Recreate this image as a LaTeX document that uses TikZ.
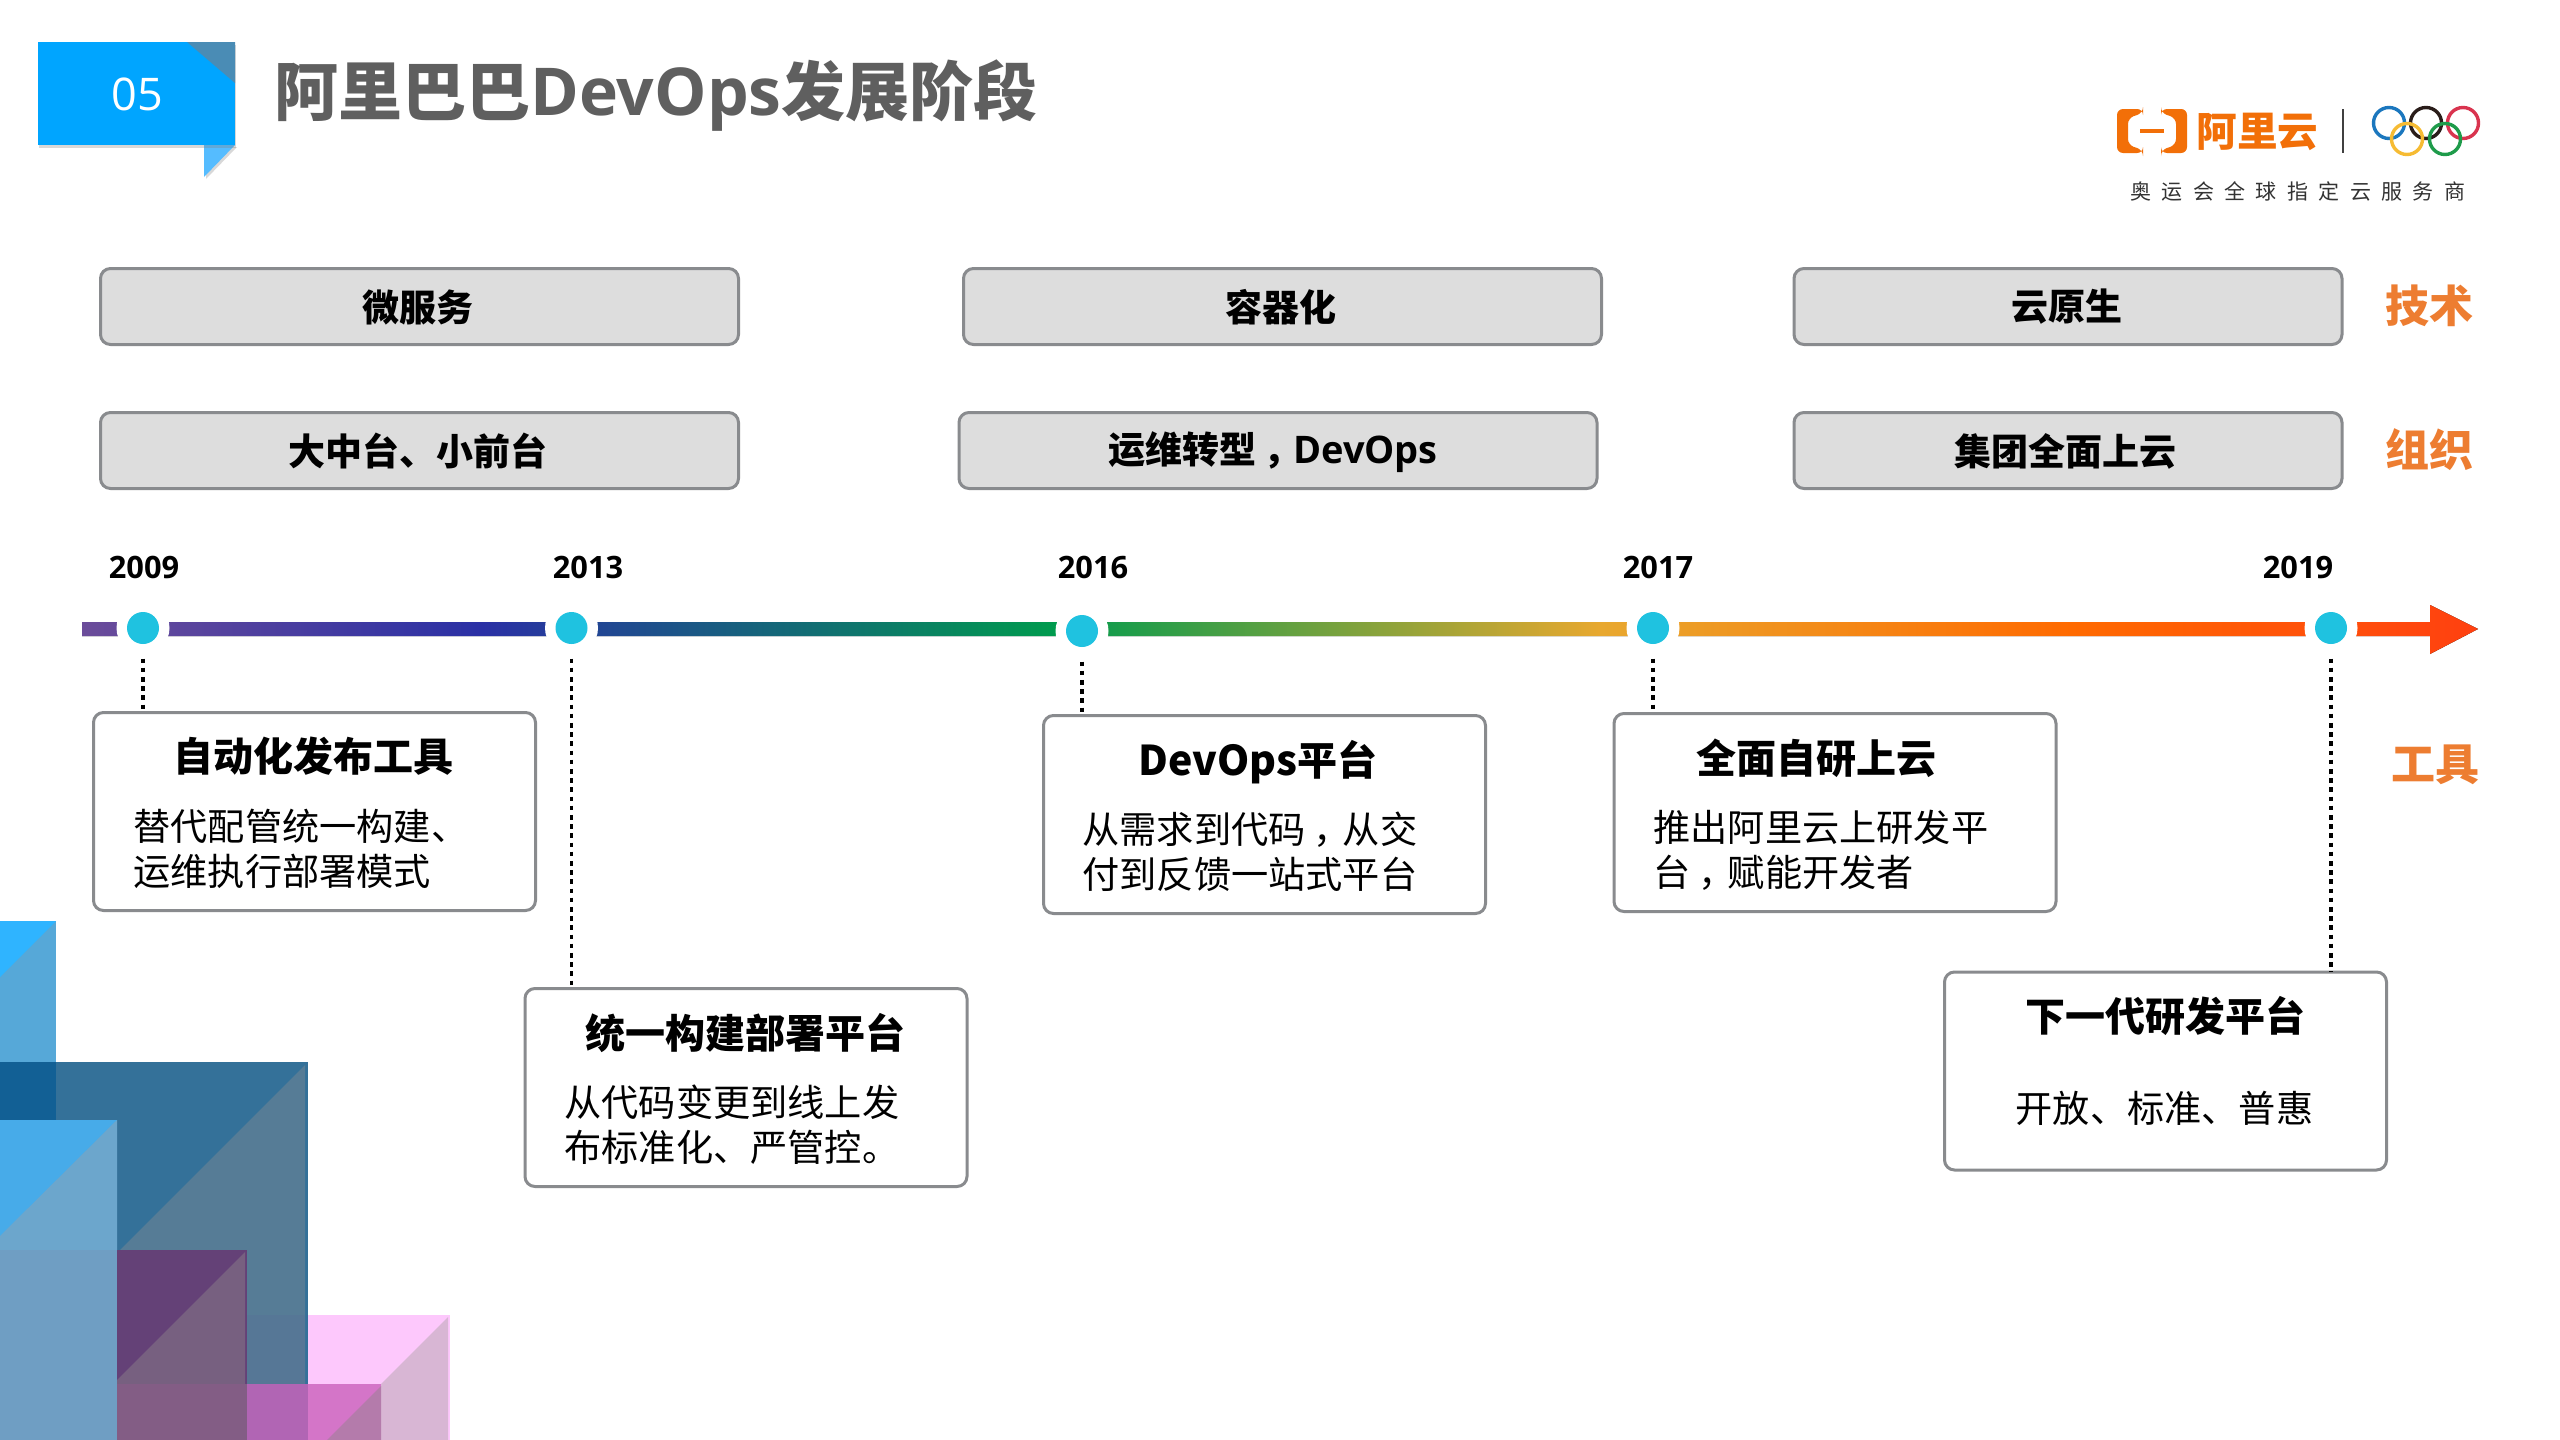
\documentclass[tikz,border=0pt]{standalone}
\usepackage{fontspec}
\usetikzlibrary{positioning,shadows}
\setmainfont{Open Sans}
\newfontfamily\cjk{Noto Sans CJK SC}
\newfontfamily\capfont[LetterSpace=49.5]{Noto Sans CJK SC}
\newcommand{\fsize}[1]{\fontsize{#1}{#1}\selectfont}
\newcommand{\widecomma}{\kern.2em ，\kern-.2em}
\definecolor{boxgray}{HTML}{898B8E}
\definecolor{boxfill}{HTML}{DDDDDD}
\definecolor{sideorange}{HTML}{ED7D31}
\definecolor{logoorange}{HTML}{F26F08}
\definecolor{dotblue}{HTML}{1FC2E0}
\definecolor{stopa}{HTML}{6B4C9A}
\definecolor{stopb}{HTML}{2A30A5}
\definecolor{stopc}{HTML}{009B4E}
\definecolor{stopd}{HTML}{E8A82F}
\definecolor{stope}{HTML}{FF6A00}
\definecolor{stopf}{HTML}{FF4010}
\pgfdeclarehorizontalshading{barshade}{100bp}{color(0bp)=(stopa); color(25bp)=(stopa); color(33.35bp)=(stopb); color(45.3bp)=(stopc); color(56.7bp)=(stopd); color(66.5bp)=(stope); color(75bp)=(stopf); color(100bp)=(stopf)}
\begin{document}
\begin{tikzpicture}
[
    x=0.5pt, y=-0.5pt,
    bandbox/.style={draw=boxgray, fill=boxfill, line width=1.5pt, rounded corners=5pt, minimum height=38pt, inner sep=0pt, outer sep=0pt},
    toolbox/.style={draw=boxgray, fill=white, line width=1.5pt, rounded corners=5pt, minimum width=221pt, minimum height=99pt, inner sep=0pt, outer sep=0pt},
    bandtext/.style={font=\cjk\bfseries\fsize{18.5}, inner sep=0pt},
    sidetext/.style={font=\cjk\bfseries\fsize{22}, text=sideorange, inner sep=0pt},
    yeartext/.style={font=\bfseries\fsize{15.4}, inner sep=0pt},
    tooltitle/.style={font=\cjk\bfseries\fsize{20}, inner sep=0pt},
    toolbody/.style={font=\cjk\fontsize{18.6}{22.5}\selectfont, align=left, anchor=west, inner sep=0pt},
    ring/.style={circle, fill=white, minimum size=26.5pt, inner sep=0pt, outer sep=0pt},
    yeardot/.style={circle, fill=dotblue, minimum size=16pt, inner sep=0pt},
    leader/.style={black, line width=1.7pt, dash pattern=on 2.3pt off 2.3pt, shorten <=2pt},
    olympic/.style={line width=1.7pt},
]
\useasboundingbox (0,0) rectangle (2560,1440);

\fill[fill=white] (0,0) rectangle (2560,1440);

\fill[fill={rgb,255:red,86;green,168;blue,216}] (0,921) rectangle (56,1062);
\fill[fill={rgb,255:red,47;green,180;blue,255}] (0,921) -- (56,921) -- (0,977) -- cycle;
\fill[fill={rgb,255:red,52;green,113;blue,153}] (0,1062) rectangle (308,1440);
\fill[fill={rgb,255:red,18;green,96;blue,149}] (0,1062) rectangle (56,1120);
\fill[fill={rgb,255:red,86;green,124;blue,150}] (305,1065) -- (305,1440) -- (0,1440) -- (0,1370) -- cycle;
\fill[fill={rgb,255:red,86;green,119;blue,150}] (247,1315) rectangle (305,1384);
\fill[fill={rgb,255:red,253;green,200;blue,252}] (308,1315) rectangle (450,1440);
\fill[fill={rgb,255:red,216;green,182;blue,212}] (448,1317) -- (448,1440) -- (325,1440) -- cycle;
\fill[fill={rgb,255:red,100;green,65;blue,119}] (117,1250) rectangle (247,1440);
\fill[fill={rgb,255:red,119;green,96;blue,128}] (245,1252) -- (245,1440) -- (117,1440) -- (117,1380) -- cycle;
\fill[fill={rgb,255:red,131;green,93;blue,133}] (117,1384) rectangle (247,1440);
\fill[fill={rgb,255:red,177;green,101;blue,180}] (247,1384) rectangle (308,1440);
\fill[fill={rgb,255:red,212;green,117;blue,200}] (308,1384) rectangle (381,1440);
\fill[fill={rgb,255:red,180;green,123;blue,171}] (381,1386) -- (381,1440) -- (327,1440) -- cycle;
\fill[fill={rgb,255:red,71;green,171;blue,233}] (0,1120) rectangle (117,1440);
\fill[fill={rgb,255:red,108;green,166;blue,204}] (117,1120) -- (117,1250) -- (0,1250) -- (0,1236) -- cycle;
\fill[fill={rgb,255:red,111;green,158;blue,195}] (0,1250) rectangle (117,1440);

\fill[fill={rgb,255:red,85;green,188;blue,255}, drop shadow={shadow xshift=1pt, shadow yshift=-1pt, opacity=.3}] (204,145) -- (235,145) -- (204,177) -- cycle;
\fill[fill={rgb,255:red,0;green,165;blue,255}, drop shadow={shadow xshift=0.5pt, shadow yshift=-1.5pt, opacity=.3}] (38,42) rectangle (235,145);
\fill[fill={rgb,255:red,74;green,140;blue,181}] (187,42) -- (235,42) -- (235,83) -- cycle;
\node[font=\fsize{22.5}, text=white, inner sep=0pt] (badge) at (137,94) {05};
\node[font=\cjk\bfseries\fsize{32}, text={rgb,255:red,95;green,95;blue,95}, anchor=west, inner sep=0pt] (pagetitle) at (274,96) {阿里巴巴{\rmfamily\bfseries\fsize{33}DevOps}发展阶段};

\fill[logoorange, rounded corners=3pt] (2143,109) -- (2117,109) -- (2117,153) -- (2143,153) -- (2143,150) -- (2128,145) -- (2128,118) -- (2143,113) -- cycle;
\fill[logoorange, rounded corners=3pt] (2161,109) -- (2187,109) -- (2187,153) -- (2161,153) -- (2161,150) -- (2176,145) -- (2176,118) -- (2161,113) -- cycle;
\fill[logoorange] (2140,128.5) rectangle (2164,132.5);
\node[font=\cjk\bfseries\fsize{20.3}, text=logoorange, anchor=west, inner sep=0pt] (logotext) at (2196,132) {阿里云};
\draw[black!75, line width=1pt] (2343,109) -- (2343,153);
\draw[olympic, draw={rgb,255:red,27;green,119;blue,190}] (2389,123) circle (15.5);
\draw[olympic, draw={rgb,255:red,42;green,29;blue,26}] (2426,123) circle (15.5);
\draw[olympic, draw={rgb,255:red,217;green,52;blue,79}] (2463,123) circle (15.5);
\draw[olympic, draw={rgb,255:red,246;green,187;blue,51}] (2407,139) circle (15.5);
\draw[olympic, draw={rgb,255:red,30;green,155;blue,74}] (2445,139) circle (15.5);
\node[font=\capfont\fsize{10.5}, text=black!80, anchor=west, inner sep=0pt] (logocaption) at (2130,191) {奥运会全球指定云服务商};

\node[bandbox, minimum width=319pt] (tech1) at (419.5,306.5) {};
\node[bandbox, minimum width=319pt] (tech2) at (1282.5,306.5) {};
\node[bandbox, minimum width=274pt] (tech3) at (2068,306.5) {};
\node[bandbox, minimum width=319pt] (org1) at (419.5,450.5) {};
\node[bandbox, minimum width=319pt] (org2) at (1278,450.5) {};
\node[bandbox, minimum width=274pt] (org3) at (2068,450.5) {};
\node[bandtext] (techtext1) at (418,307) {微服务};
\node[bandtext] (techtext2) at (1280.5,307) {容器化};
\node[bandtext] (techtext3) at (2067,307) {云原生};
\node[bandtext] (orgtext1) at (417.5,451) {大中台、小前台};
\node[bandtext] (orgtext2) at (1273,452) {运维转型\widecomma{\rmfamily\bfseries\fsize{19}DevOps}};
\node[bandtext] (orgtext3) at (2065.5,451) {集团全面上云};
\node[sidetext] (sidetech) at (2429,306) {技术};
\node[sidetext] (sideorg) at (2429,450) {组织};
\node[sidetext] (sidetool) at (2435,765) {工具};

\fill[shading=barshade] (82,622) -- (2430,622) -- (2430,605) -- (2478,629) -- (2430,654) -- (2430,636) -- (82,636) -- cycle;
\foreach \name/\px/\py/\yearx in {2009/143/628/144, 2013/571.5/628/588, 2016/1082/631/1093, 2017/1653/628/1658, 2019/2331/628/2298}
{
    \node[ring] (ring\name) at (\px,\py) {};
    \node[yeardot] (dot\name) at (\px,\py) {};
    \node[yeartext] (year\name) at (\yearx,567) {\name};
}

\node[toolbox] (tool2009) at (314.5,811.5) {};
\node[toolbox] (tool2013) at (746,1087.5) {};
\node[toolbox] (tool2016) at (1264.5,814.5) {};
\node[toolbox] (tool2017) at (1835,812.5) {};
\node[toolbox] (tool2019) at (2165.5,1071) {};

\draw[leader] (ring2009.south) -- (ring2009.south |- tool2009.north);
\draw[leader] (ring2013.south) -- (ring2013.south |- tool2013.north);
\draw[leader] (ring2016.south) -- (ring2016.south |- tool2016.north);
\draw[leader] (ring2017.south) -- (ring2017.south |- tool2017.north);
\draw[leader] (ring2019.south) -- (ring2019.south |- tool2019.north);

\node[tooltitle] (title2009) at (313.5,756.5) {自动化发布工具};
\node[toolbody] (body2009) at (133,849) {替代配管统一构建、\\运维执行部署模式};
\node[tooltitle] (title2013) at (745,1033) {统一构建部署平台};
\node[toolbody] (body2013) at (564,1125) {从代码变更到线上发\\布标准化、严管控。};
\node[tooltitle] (title2016) at (1258,762) {{\fsize{20.5}DevOps}{\cjk 平台}};
\node[toolbody] (body2016) at (1082,852) {从需求到代码\widecomma 从交\\付到反馈一站式平台};
\node[tooltitle] (title2017) at (1816.5,758.5) {全面自研上云};
\node[toolbody] (body2017) at (1653,850) {推出阿里云上研发平\\台\widecomma 赋能开发者};
\node[tooltitle] (title2019) at (2165,1016) {下一代研发平台};
\node[toolbody, anchor=center] (body2019) at (2164.5,1108) {开放、标准、普惠};
\end{tikzpicture}
\end{document}
